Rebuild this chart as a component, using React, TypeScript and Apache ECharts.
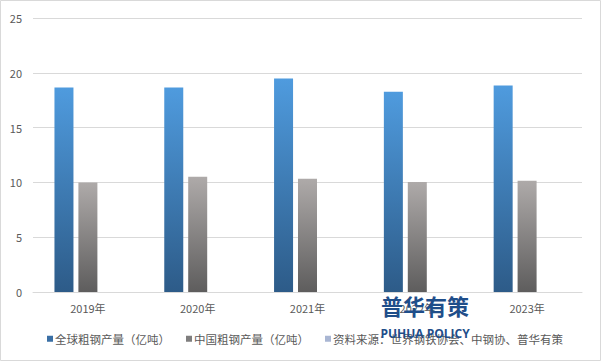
import React, { useEffect, useRef } from "react";
import * as echarts from "echarts";

const categories = ["2019年", "2020年", "2021年", "2022年", "2023年"];
const globalOutput = [18.65, 18.65, 19.47, 18.28, 18.83];
const chinaOutput = [9.99, 10.51, 10.33, 10.03, 10.15];
const sourceSeries: (number | null)[] = [null, null, null, null, null];
const seriesNames = ["全球粗钢产量（亿吨）", "中国粗钢产量（亿吨）", "资料来源：世界钢铁协会、中钢协、普华有策"];

const FONT = "'Noto Sans CJK SC', 'Microsoft YaHei', sans-serif";

export default function App() {
  const ref = useRef<HTMLDivElement>(null);
  useEffect(() => {
    if (!ref.current) return;
    const chart = echarts.init(ref.current, null, { renderer: "svg" });
    const blueGrad = new echarts.graphic.LinearGradient(0, 0, 0, 1, [
      { offset: 0, color: "#4F9BDE" },
      { offset: 1, color: "#2D5B88" },
    ]);
    const grayGrad = new echarts.graphic.LinearGradient(0, 0, 0, 1, [
      { offset: 0, color: "#AEAAA9" },
      { offset: 1, color: "#5E5D5D" },
    ]);
    chart.setOption({
      animation: false,
      textStyle: { fontFamily: FONT },
      grid: { left: 33, right: 19, top: 18, bottom: 69, containLabel: false },
      legend: {
        left: 42,
        top: 328,
        itemWidth: 6,
        itemHeight: 6,
        itemGap: 16,
        icon: "rect",
        textStyle: { color: "#595959", fontSize: 11.5, fontFamily: FONT, padding: [0, 0, 0, -3] },
        data: [
          { name: seriesNames[0], itemStyle: { color: "#3A6FA5" } },
          { name: seriesNames[1], itemStyle: { color: "#7F7E7E" } },
          { name: seriesNames[2], itemStyle: { color: "#A9B6D3" } },
        ],
      },
      xAxis: {
        type: "category",
        data: categories,
        axisLine: { lineStyle: { color: "#D9D9D9" } },
        axisTick: { show: false },
        axisLabel: { color: "#595959", fontSize: 11, margin: 10, fontFamily: FONT },
      },
      yAxis: {
        type: "value",
        min: 0,
        max: 25,
        interval: 5,
        axisLine: { show: false },
        axisTick: { show: false },
        splitLine: { lineStyle: { color: "#D9D9D9" } },
        axisLabel: { color: "#595959", fontSize: 11, margin: 11, fontFamily: FONT },
      },
      series: [
        {
          name: seriesNames[0],
          type: "bar",
          data: globalOutput,
          barWidth: 19,
          barGap: "26%",
          itemStyle: { color: blueGrad },
        },
        {
          name: seriesNames[1],
          type: "bar",
          data: chinaOutput,
          barWidth: 19,
          barGap: "26%",
          itemStyle: { color: grayGrad },
        },
        {
          name: seriesNames[2],
          type: "bar",
          data: sourceSeries,
          barWidth: 19,
          barGap: "26%",
          itemStyle: { color: "#A9B6D3" },
        },
      ],
      graphic: [
        {
          type: "rect",
          shape: { x: 0.5, y: 0.5, width: 600, height: 360 },
          style: { fill: "none", stroke: "#D9D9D9", lineWidth: 1 },
          silent: true,
          z: 0,
        },
        {
          type: "text",
          x: 425,
          y: 305,
          z: 100,
          style: {
            text: "普华有策",
            fill: "#1F4E8A",
            font: `bold 22px ${FONT}`,
            textAlign: "center",
            textVerticalAlign: "middle",
          },
        },
        {
          type: "text",
          x: 425,
          y: 333,
          z: 100,
          style: {
            text: "PUHUA POLICY",
            fill: "#1F4E8A",
            font: `bold 12px 'Open Sans', 'DejaVu Sans', sans-serif`,
            textAlign: "center",
            textVerticalAlign: "middle",
          },
        },
      ],
    });
    return () => chart.dispose();
  }, []);
  return (
    <div
      ref={ref}
      style={{ position: "fixed", left: 0, top: 0, width: 601, height: 361, background: "#fff" }}
    />
  );
}
